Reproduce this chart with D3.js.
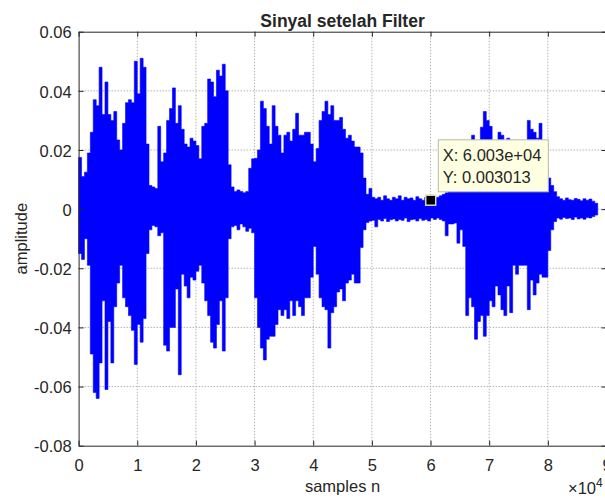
<!DOCTYPE html>
<html>
<head>
<meta charset="utf-8">
<script src="https://cdn.jsdelivr.net/npm/d3@7"></script>
<style>
  body { margin: 0; background: #fff; }
  svg { display: block; }
  text { font-family: "Liberation Sans", Arial, Helvetica, sans-serif; fill: #262626; }
</style>
</head>
<body>
<div id="chart"></div>
<script>
// samples per envelope bin
const binSize = 500;

// max of the filtered signal in each bin of 500 samples
const ampMax = [
  0.0175, 0.011, 0.0125, 0.019, 0.026, 0.037, 0.035, 0.048, 0.032, 0.043,
  0.032, 0.030, 0.033, 0.0234, 0.020, 0.029, 0.036, 0.037, 0.036, 0.050,
  0.039, 0.051, 0.048, 0.022, 0.008, 0.0075, 0.007, 0.028, 0.016, 0.019,
  0.030, 0.034, 0.041, 0.029, 0.035, 0.027, 0.022, 0.021, 0.024, 0.023,
  0.0215, 0.017, 0.028, 0.029, 0.044, 0.043, 0.038, 0.047, 0.045, 0.049,
  0.040, 0.015, 0.0075, 0.006, 0.0065, 0.006, 0.0055, 0.006, 0.0138, 0.017,
  0.0172, 0.020, 0.0365, 0.034, 0.028, 0.022, 0.035, 0.028, 0.025, 0.019,
  0.025, 0.026, 0.023, 0.027, 0.0324, 0.025, 0.025, 0.026, 0.026, 0.022,
  0.016, 0.0205, 0.030, 0.033, 0.0365, 0.032, 0.035, 0.030, 0.030, 0.031,
  0.027, 0.024, 0.025, 0.023, 0.021, 0.021, 0.019, 0.0105, 0.005, 0.007,
  0.004, 0.0035, 0.004, 0.003, 0.0045, 0.0035, 0.003, 0.004, 0.0035, 0.0045,
  0.003, 0.004, 0.0035, 0.0038, 0.003, 0.0042, 0.0035, 0.003, 0.004, 0.0035,
  0.0035, 0.0037, 0.004, 0.0045, 0.005, 0.0055, 0.007, 0.008, 0.009, 0.012,
  0.013, 0.014, 0.016, 0.022, 0.025, 0.023, 0.018, 0.0277, 0.033, 0.030,
  0.028, 0.018, 0.020, 0.026, 0.025, 0.017, 0.024, 0.016, 0.015, 0.016,
  0.015, 0.016, 0.018, 0.030, 0.027, 0.026, 0.024, 0.029, 0.018, 0.014,
  0.0105, 0.008, 0.0059, 0.0042, 0.0035, 0.003, 0.0038, 0.0032, 0.003, 0.0036,
  0.0033, 0.0028, 0.0035, 0.003, 0.0034, 0.0027, 0.002
];

// min of the filtered signal in each bin
const ampMin = [
  -0.015, -0.017, -0.010, -0.019, -0.049, -0.062, -0.064, -0.052, -0.031, -0.061,
  -0.038, -0.052, -0.033, -0.025, -0.019, -0.030, -0.033, -0.036, -0.041, -0.0525,
  -0.039, -0.045, -0.037, -0.015, -0.007, -0.0055, -0.006, -0.009, -0.008, -0.046,
  -0.048, -0.040, -0.040, -0.027, -0.056, -0.022, -0.026, -0.030, -0.023, -0.024,
  -0.021, -0.019, -0.025, -0.031, -0.036, -0.045, -0.047, -0.039, -0.031, -0.048,
  -0.030, -0.010, -0.006, -0.0055, -0.007, -0.005, -0.006, -0.0075, -0.0065, -0.008,
  -0.030, -0.040, -0.047, -0.051, -0.044, -0.043, -0.043, -0.039, -0.034, -0.036,
  -0.034, -0.037, -0.031, -0.036, -0.031, -0.033, -0.036, -0.030, -0.030, -0.023,
  -0.0126, -0.022, -0.030, -0.033, -0.034, -0.047, -0.035, -0.033, -0.028, -0.027,
  -0.031, -0.025, -0.024, -0.022, -0.025, -0.025, -0.013, -0.007, -0.0045, -0.004,
  -0.0038, -0.006, -0.0035, -0.004, -0.0032, -0.0042, -0.0036, -0.0033, -0.004, -0.0035,
  -0.0038, -0.003, -0.0042, -0.0036, -0.0034, -0.004, -0.0032, -0.0038, -0.0035, -0.004,
  -0.003, -0.0035, -0.003, -0.0035, -0.004, -0.009, -0.005, -0.005, -0.0047, -0.0115,
  -0.007, -0.0126, -0.036, -0.030, -0.033, -0.044, -0.038, -0.036, -0.043, -0.036,
  -0.031, -0.033, -0.026, -0.029, -0.034, -0.036, -0.026, -0.035, -0.019, -0.022,
  -0.019, -0.019, -0.019, -0.034, -0.024, -0.029, -0.025, -0.022, -0.023, -0.023,
  -0.014, -0.007, -0.0042, -0.003, -0.0034, -0.0028, -0.0032, -0.003, -0.0035, -0.0027,
  -0.0033, -0.003, -0.0034, -0.0028, -0.003, -0.0025, -0.002
];

const xTicks = [0, 10000, 20000, 30000, 40000, 50000, 60000, 70000, 80000, 90000];
const xTickLabels = ["0", "1", "2", "3", "4", "5", "6", "7", "8", "9"];
const yTicks = [-0.08, -0.06, -0.04, -0.02, 0, 0.02, 0.04, 0.06];
const yTickLabels = ["-0.08", "-0.06", "-0.04", "-0.02", "0", "0.02", "0.04", "0.06"];

// data tip
const tipPoint = [60030, 0.003013];
const tipLines = ["X: 6.003e+04", "Y: 0.003013"];

const width = 605, height = 498;
// the axes box runs a little past the right edge of the picture
const plot = {left: 78.6, right: 606.5, top: 31.7, bottom: 445.7};

const svg = d3.select("#chart").append("svg")
  .attr("width", width)
  .attr("height", height);

svg.append("rect").attr("width", width).attr("height", height).attr("fill", "#fff");

const x = d3.scaleLinear().domain([0, 90000]).range([plot.left, plot.right]);
const y = d3.scaleLinear().domain([-0.08, 0.06]).range([plot.bottom, plot.top]);

// grid
const grid = svg.append("g")
  .attr("stroke", "#b4b4b4")
  .attr("stroke-width", 1)
  .attr("stroke-dasharray", "1.5,1.5");
grid.selectAll("line.gx")
  .data(xTicks.slice(1, -1))
  .join("line")
  .attr("x1", d => x(d)).attr("x2", d => x(d))
  .attr("y1", plot.top).attr("y2", plot.bottom);
grid.selectAll("line.gy")
  .data(yTicks.slice(1, -1))
  .join("line")
  .attr("x1", plot.left).attr("x2", plot.right)
  .attr("y1", d => y(d)).attr("y2", d => y(d));

// waveform envelope, one step per bin
const bins = ampMax.map((hi, i) => ({n: i * binSize, hi: hi, lo: ampMin[i]}));
const last = bins[bins.length - 1];
bins.push({n: last.n + binSize, hi: last.hi, lo: last.lo});

svg.append("path")
  .datum(bins)
  .attr("fill", "#0000ff")
  .attr("stroke", "#0000ff")
  .attr("stroke-width", 0.6)
  .attr("d", d3.area()
    .curve(d3.curveStepAfter)
    .x(d => x(d.n))
    .y0(d => y(d.lo))
    .y1(d => y(d.hi)));

// axes, ticks pointing inward on all four sides
const styleAxis = g => {
  g.select(".domain").attr("stroke", "#262626");
  g.selectAll(".tick line").attr("stroke", "#262626");
  g.selectAll(".tick text").attr("fill", "#262626");
};

svg.append("g")
  .attr("transform", `translate(0, ${plot.bottom})`)
  .call(d3.axisBottom(x).tickValues(xTicks).tickFormat((d, i) => xTickLabels[i])
    .tickSizeInner(-5).tickSizeOuter(0).tickPadding(14))
  .call(styleAxis)
  .call(g => g.selectAll("text").attr("font-size", "16.5px").attr("font-family", null));

svg.append("g")
  .attr("transform", `translate(0, ${plot.top})`)
  .call(d3.axisTop(x).tickValues(xTicks).tickFormat("")
    .tickSizeInner(-5).tickSizeOuter(0))
  .call(styleAxis);

svg.append("g")
  .attr("transform", `translate(${plot.left}, 0)`)
  .call(d3.axisLeft(y).tickValues(yTicks).tickFormat((d, i) => yTickLabels[i])
    .tickSizeInner(-5).tickSizeOuter(0).tickPadding(7))
  .call(styleAxis)
  .call(g => g.selectAll("text").attr("font-size", "16.5px").attr("font-family", null).attr("dy", "0.38em"));

svg.append("g")
  .attr("transform", `translate(${plot.right}, 0)`)
  .call(d3.axisRight(y).tickValues(yTicks).tickFormat("")
    .tickSizeInner(-5).tickSizeOuter(0))
  .call(styleAxis);

svg.selectAll(".domain").attr("stroke-width", 1);

// title and labels
svg.append("text")
  .attr("x", (plot.left + plot.right) / 2)
  .attr("y", 26.5)
  .attr("text-anchor", "middle")
  .attr("font-size", "17.5px")
  .attr("font-weight", "bold")
  .text("Sinyal setelah Filter");

svg.append("text")
  .attr("x", (plot.left + plot.right) / 2)
  .attr("y", 492)
  .attr("text-anchor", "middle")
  .attr("font-size", "16.5px")
  .text("samples n");

svg.append("text")
  .attr("transform", `translate(27, ${(plot.top + plot.bottom) / 2}) rotate(-90)`)
  .attr("text-anchor", "middle")
  .attr("font-size", "16.5px")
  .text("amplitude");

// x exponent
const expo = svg.append("text")
  .attr("x", 568)
  .attr("y", 494)
  .attr("font-size", "16.5px");
expo.append("tspan").text("\u00d710");
expo.append("tspan").attr("dy", -7).attr("font-size", "12px").text("4");

// data tip marker and box
const tipX = x(tipPoint[0]), tipY = y(tipPoint[1]);
svg.append("rect")
  .attr("x", tipX - 5).attr("y", tipY - 5)
  .attr("width", 10).attr("height", 10)
  .attr("fill", "#000")
  .attr("stroke", "#d8d8c0")
  .attr("stroke-width", 1.5);

const tip = svg.append("g").attr("transform", `translate(${tipX + 7.6}, ${tipY - 60.4})`);
tip.append("rect")
  .attr("width", 110).attr("height", 52)
  .attr("fill", "#ffffe1")
  .attr("stroke", "#b8b8a8")
  .attr("stroke-width", 1);
tip.selectAll("text")
  .data(tipLines)
  .join("text")
  .attr("x", 4.4)
  .attr("y", (d, i) => 21 + i * 22.3)
  .attr("font-size", "16.5px")
  .text(d => d);
</script>
</body>
</html>
